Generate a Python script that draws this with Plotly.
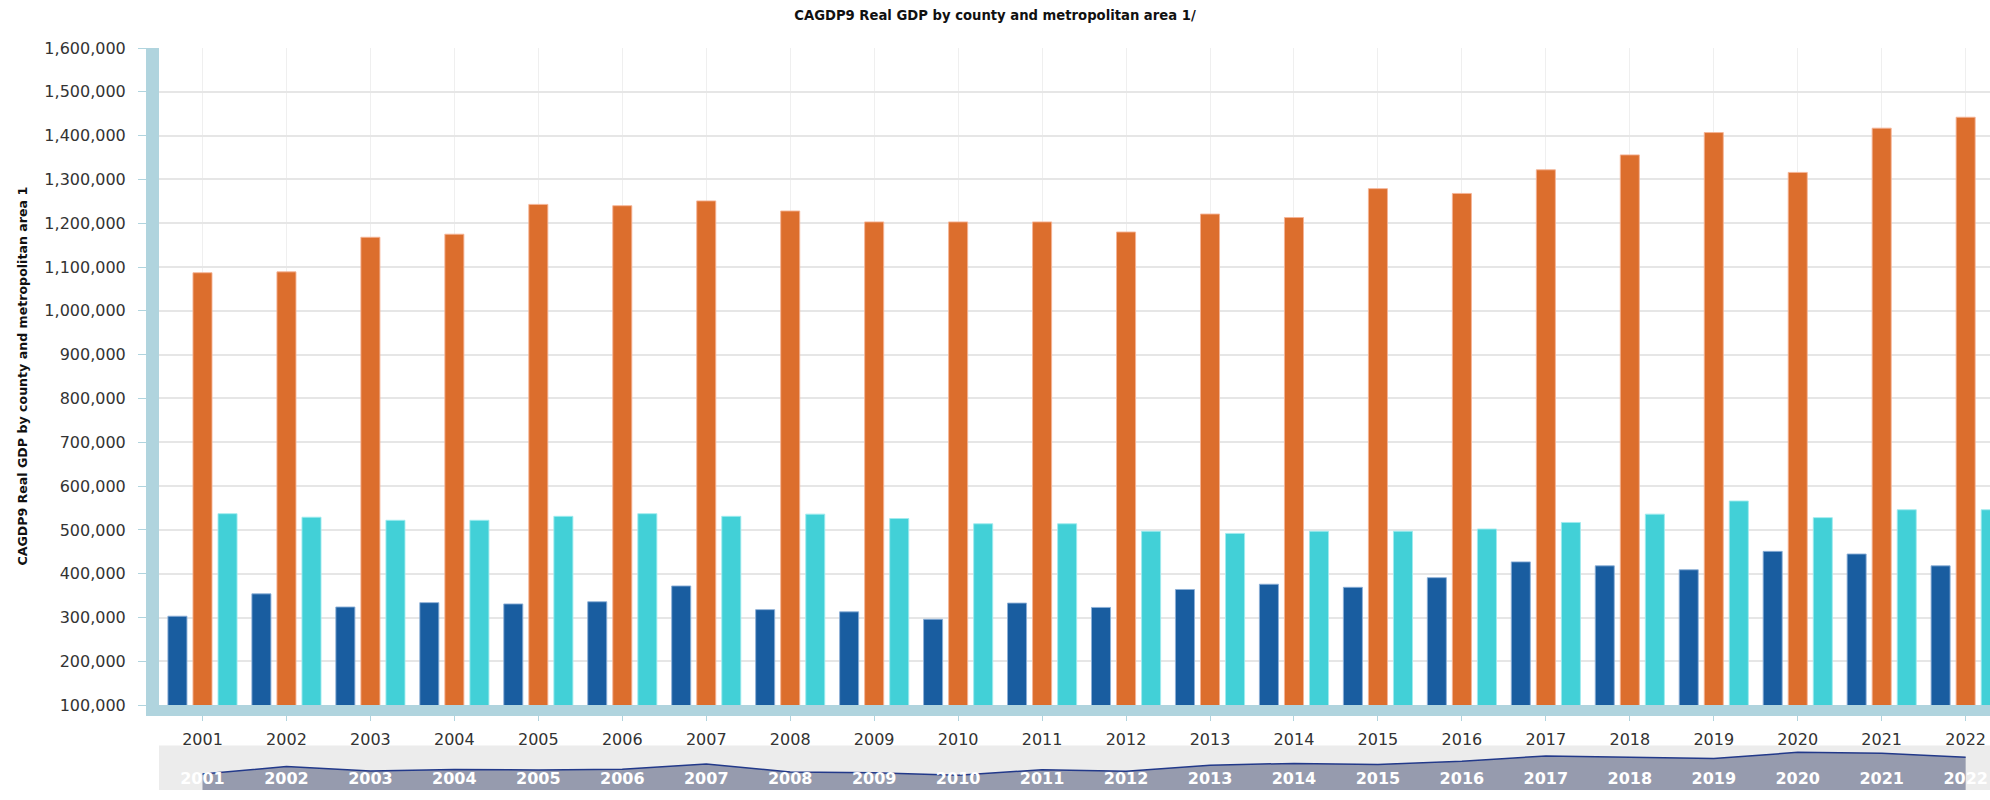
import plotly.graph_objects as go

years = [str(y) for y in range(2001, 2023)]
series_a = [303, 354, 324, 334, 331, 336, 372, 318, 313, 296, 333, 323, 364, 376, 369, 391, 427, 418, 409, 451, 445, 418]
series_b = [1087, 1089, 1168, 1175, 1243, 1240, 1251, 1228, 1203, 1203, 1203, 1180, 1221, 1213, 1279, 1268, 1322, 1356, 1407, 1316, 1417, 1442]
series_c = [537, 529, 522, 522, 531, 537, 531, 536, 526, 514, 514, 497, 492, 497, 497, 502, 517, 536, 566, 528, 546, 546]
series_a = [v * 1000 for v in series_a]
series_b = [v * 1000 for v in series_b]
series_c = [v * 1000 for v in series_c]

title_text = "CAGDP9 Real GDP by county and metropolitan area 1/"
ytitle_text = "CAGDP9 Real GDP by county and metropolitan area 1"

W, H = 1990, 800
ML, MT = 159, 48
PW, PH = W - ML, H - MT
FONT = "DejaVu Sans"
WALL = "#B0D4DE"

fig = go.Figure()
for name, vals, col, edge in [
    ("Series A", series_a, "#195DA0", "rgba(140,175,215,0.9)"),
    ("Series B", series_b, "#DC6E2D", "rgba(245,180,150,0.9)"),
    ("Series C", series_c, "#42D0D7", "rgba(160,235,238,0.9)"),
]:
    fig.add_trace(go.Bar(x=years, y=vals, name=name, marker=dict(color=col, line=dict(color=edge, width=1)),
                         xaxis="x", yaxis="y", showlegend=False))

# navigator area
fig.add_trace(go.Scatter(x=years, y=series_a, mode="lines", fill="tozeroy",
                         fillcolor="#969BAE", line=dict(color="#22398A", width=1.5),
                         xaxis="x2", yaxis="y2", showlegend=False, hoverinfo="skip"))

xr = [-0.518, 21.29]
main_bottom = 86 / PH
nav_top = 45 / PH

fig.update_layout(
    width=W, height=H,
    margin=dict(l=ML, r=0, t=MT, b=0, pad=0),
    paper_bgcolor="white", plot_bgcolor="white",
    barmode="group", bargap=0.105, bargroupgap=0.24,
    font=dict(family=FONT, size=16, color="#333333"),
    title=dict(text=title_text, x=995 / W, xref="container", xanchor="center",
               y=1 - 15 / H, yref="container", yanchor="middle",
               font=dict(family=FONT, size=13.2, color="#111111", weight="bold")),
    xaxis=dict(type="category", range=xr, domain=[0, 1], anchor="y",
               showgrid=True, gridcolor="#EFEFEF", gridwidth=1,
               showline=True, linewidth=11, linecolor=WALL,
               ticks="outside", ticklen=5, tickcolor=WALL, tickwidth=1, ticklabelstandoff=5,
               tickfont=dict(size=16, color="#333333"), zeroline=False, fixedrange=True),
    yaxis=dict(range=[100000, 1600000], dtick=100000, tickformat=",", domain=[main_bottom, 1], anchor="x",
               showgrid=True, gridcolor="#E6E6E6", gridwidth=1.5,
               showline=True, linewidth=13, linecolor=WALL,
               ticks="outside", ticklen=8, tickcolor=WALL, tickwidth=1, ticklabelstandoff=9,
               tickfont=dict(size=16, color="#333333"), zeroline=False),
    xaxis2=dict(type="category", range=xr, domain=[0, 1], anchor="y2",
                showgrid=False, showline=False, ticks="", ticklabelposition="inside",
                tickfont=dict(size=16, color="white", weight="bold"), zeroline=False),
    yaxis2=dict(range=[195000, 497000], domain=[0, nav_top], anchor="x2",
                showgrid=False, showticklabels=False, zeroline=False, showline=False),
    shapes=[dict(type="rect", xref="x2 domain", yref="y2 domain", x0=0, x1=1, y0=0, y1=1,
                 fillcolor="#ECECEC", line=dict(width=0), layer="below")]
          + [dict(type="line", xref="x2", yref="y2 domain", x0=y, x1=y, y0=0, y1=1,
                  line=dict(color="rgba(255,255,255,0.75)", width=1), layer="above") for y in years],
    annotations=[dict(text=ytitle_text, textangle=-90, xref="paper", yref="paper",
                      x=(23 - ML) / PW, y=(main_bottom + 1) / 2, xanchor="center", yanchor="middle",
                      showarrow=False, font=dict(family=FONT, size=12.6, color="#111111", weight="bold"))],
)

fig.write_html(
    "out.html",
    config={"displayModeBar": False},
    post_script="document.documentElement.style.margin='0';document.body.style.margin='0';"
                "document.documentElement.style.overflow='hidden';document.body.style.overflow='hidden';",
)
